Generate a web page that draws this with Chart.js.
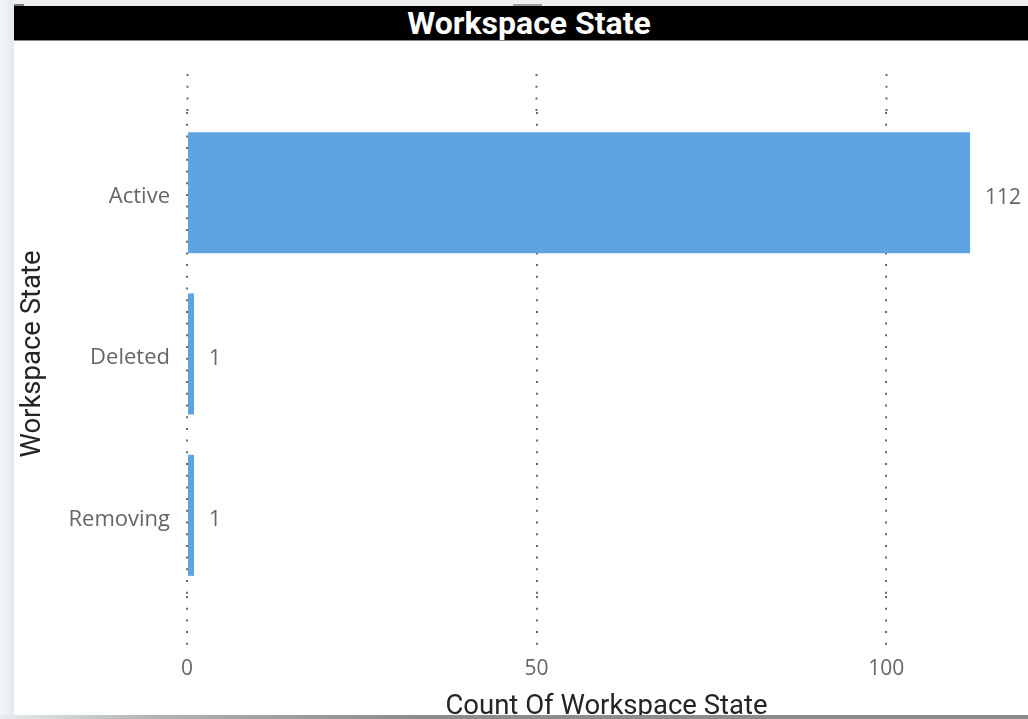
<!DOCTYPE html>
<html>
<head>
<meta charset="utf-8">
<script src="https://cdn.jsdelivr.net/npm/chart.js@4"></script>
<style>
html,body{margin:0;padding:0;width:1028px;height:719px;overflow:hidden;background:#eef1f3;}
#leftstrip{position:absolute;left:0;top:0;width:14px;height:719px;background:linear-gradient(to right,#f3f5f7,#e6eaed);}
#panel{position:absolute;left:14px;top:0;width:1014px;height:715px;background:#fff;}
#topstrip{position:absolute;left:14px;top:0;width:1014px;height:6px;background:#eeeeee;}
#handle1{position:absolute;left:513px;top:4px;width:29px;height:4px;background:#9a9a9a;}
#handle2{position:absolute;left:14px;top:4px;width:10px;height:4px;background:#7a7a7a;}
#header{position:absolute;left:14px;top:6px;width:1014px;height:35px;background:#000;color:#fff;font:bold 32px Roboto,sans-serif;text-align:center;line-height:35px;padding-left:16px;box-sizing:border-box;border-bottom:1px solid #888;}
#wrap{position:absolute;left:14px;top:41px;width:1014px;height:683px;}
#shadow{position:absolute;left:0;top:715px;width:1028px;height:4px;background:linear-gradient(to right,#e8ecee 0,#b0b2b3 15%,#8c8c8c 40%,#8a8a8a 100%);}
</style>
</head>
<body>
<div id="leftstrip"></div>
<div id="panel"></div>
<div id="topstrip"></div>
<div id="handle2"></div>
<div id="handle1"></div>
<div id="header">Workspace State</div>
<div id="wrap"><canvas id="c" width="1014" height="683"></canvas></div>
<div id="shadow"></div>
<script>
const categories = ['Active', 'Deleted', 'Removing'];
const counts = [112, 1, 1];
const xTickValues = [0, 50, 100];

const valueLabels = {
  id: 'valueLabels',
  afterDatasetsDraw(chart) {
    const ctx = chart.ctx;
    const meta = chart.getDatasetMeta(0);
    const data = chart.data.datasets[0].data;
    ctx.save();
    ctx.font = '21px "Open Sans"';
    ctx.fillStyle = '#666666';
    ctx.textAlign = 'left';
    ctx.textBaseline = 'middle';
    meta.data.forEach((bar, i) => {
      ctx.fillText(String(data[i]), bar.x + 15, bar.y + 5);
    });
    ctx.restore();
  }
};

const dotted = [2, 9.7];
const setTicks = (s) => { s.ticks = xTickValues.map(v => ({ value: v })); };

new Chart(document.getElementById('c'), {
  type: 'bar',
  data: {
    labels: categories,
    datasets: [{
      data: counts,
      backgroundColor: '#5fa3e3',
      borderWidth: 0,
      barPercentage: 0.75,
      categoryPercentage: 1
    }]
  },
  options: {
    indexAxis: 'y',
    responsive: false,
    animation: false,
    events: [],
    layout: { padding: { top: 33, right: 2, left: 0, bottom: 0 } },
    plugins: { legend: { display: false }, tooltip: { enabled: false }, title: { display: false } },
    scales: {
      y: {
        type: 'category',
        grid: { display: false },
        border: { display: false },
        ticks: { color: '#666666', font: { family: 'Open Sans', size: 22 }, padding: 9, labelOffset: 4 },
        title: { display: true, text: 'Workspace State', color: '#252423', font: { family: 'Roboto', size: 27.5 }, padding: { top: 3, bottom: 0 } },
        afterFit(s) { s.width = 173; }
      },
      x: {
        position: 'bottom',
        min: 0,
        max: 120,
        afterBuildTicks: setTicks,
        grid: { color: '#6a6a6a', lineWidth: 2, tickLength: 52, tickColor: '#6a6a6a', tickWidth: 2, tickBorderDash: dotted },
        border: { display: false, dash: dotted },
        ticks: { color: '#666666', font: { family: 'Open Sans', size: 21 }, padding: 8 },
        title: { display: true, text: 'Count Of Workspace State', color: '#252423', font: { family: 'Roboto', size: 27.5 }, padding: { top: 0, bottom: 0 } },
        afterFit(s) { s.height = 128; }
      },
      x2: {
        position: 'top',
        min: 0,
        max: 120,
        afterBuildTicks: setTicks,
        grid: { drawOnChartArea: false, tickLength: 38, tickColor: '#6a6a6a', tickWidth: 2, tickBorderDash: dotted },
        border: { display: false },
        ticks: { display: false },
        afterFit(s) { s.height = 38; }
      }
    }
  },
  plugins: [valueLabels]
});
</script>
</body>
</html>
